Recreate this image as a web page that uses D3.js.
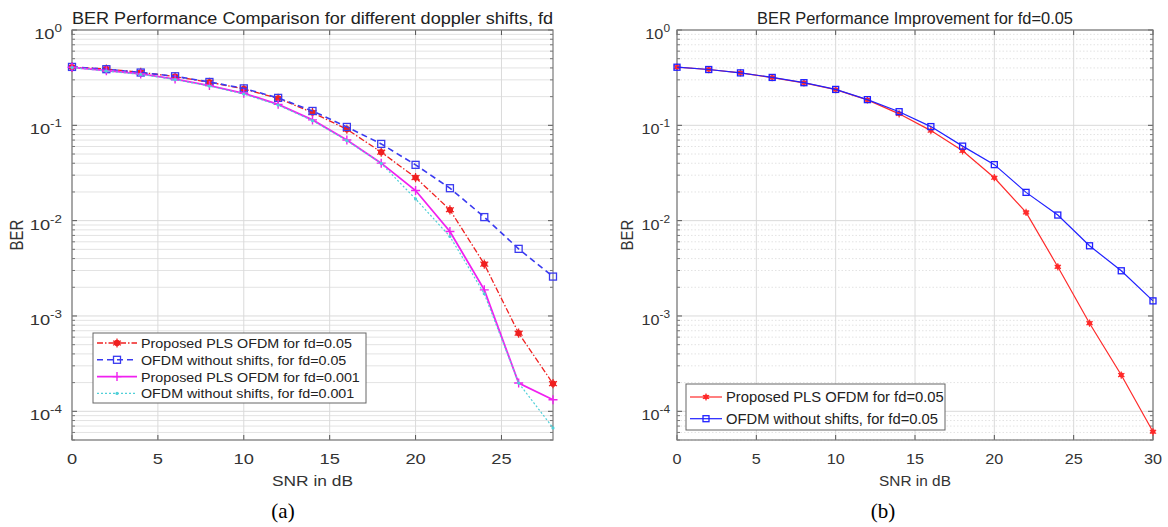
<!DOCTYPE html>
<html>
<head>
<meta charset="utf-8">
<script src="https://cdn.jsdelivr.net/npm/d3@7"></script>
<style>
  body { margin: 0; background: #fff; }
  text { font-family: "Liberation Sans", Arial, sans-serif; fill: #333; }
</style>
</head>
<body>
<svg id="chart"></svg>
<script>
var screen = {width: 1168, height: 527};

// panel (a)
var snrA = [0, 2, 4, 6, 8, 10, 12, 14, 16, 18, 20, 22, 24, 26, 28];
var pls05A   = [0.408, 0.390, 0.360, 0.324, 0.283, 0.241, 0.192, 0.136, 0.091, 0.0523, 0.0283, 0.0130, 0.00350, 0.00066, 0.000195];
var ofdm05A  = [0.410, 0.388, 0.358, 0.327, 0.285, 0.244, 0.194, 0.1415, 0.0962, 0.0638, 0.0385, 0.0219, 0.0109, 0.00506, 0.00259];
var pls001A  = [0.406, 0.374, 0.346, 0.306, 0.261, 0.217, 0.166, 0.114, 0.0702, 0.0401, 0.0207, 0.00769, 0.00188, 0.000198, 0.000132];
var ofdm001A = [0.404, 0.371, 0.342, 0.302, 0.258, 0.213, 0.163, 0.112, 0.069, 0.0398, 0.0169, 0.00682, 0.00171, 0.000198, 0.000067];

// panel (b)
var snrB = [0, 2, 4, 6, 8, 10, 12, 14, 16, 18, 20, 22, 24, 26, 28, 30];
var pls05B  = [0.407, 0.385, 0.355, 0.317, 0.279, 0.237, 0.185, 0.132, 0.088, 0.054, 0.0282, 0.0122, 0.00328, 0.00084, 0.00024, 0.000061];
var ofdm05B = [0.407, 0.385, 0.355, 0.318, 0.280, 0.238, 0.186, 0.139, 0.097, 0.0605, 0.0387, 0.0198, 0.01145, 0.00545, 0.00298, 0.00144];

var yTicks = [1, 0.1, 0.01, 0.001, 0.0001];
var yExps = ["0", "-1", "-2", "-3", "-4"];
var xTicksA = [0, 5, 10, 15, 20, 25];
var xTicksB = [0, 5, 10, 15, 20, 25, 30];

var legendA = ["Proposed PLS OFDM for fd=0.05", "OFDM without shifts, for fd=0.05",
               "Proposed PLS OFDM for fd=0.001", "OFDM without shifts, for fd=0.001"];
var legendB = ["Proposed PLS OFDM for fd=0.05", "OFDM without shifts, for fd=0.05"];

var svg = d3.select("#chart").attr("width", screen.width).attr("height", screen.height);

// text placed at x,y and stretched sideways like the source figure
var place = function(x, y, sx)
{
    return "translate(" + x + "," + y + ") scale(" + sx + ",1)";
}

var drawPanel = function(p)
{
    var g = svg.append("g");
    var xScale = d3.scaleLinear().domain(p.xDomain).range([p.left, p.right]);
    var yScale = d3.scaleLog().domain([5e-5, 1]).range([p.bottom, p.top]);

    // minor grid
    var minors = [];
    for (var e = -5; e < 0; e++)
        for (var k = 2; k < 10; k++) {
            var v = k * Math.pow(10, e);
            if (v >= 5e-5) minors.push(v);
        }
    g.append("g").selectAll("line").data(minors).enter().append("line")
        .attr("x1", p.left).attr("x2", p.right)
        .attr("y1", function(d){ return yScale(d); })
        .attr("y2", function(d){ return yScale(d); })
        .attr("stroke", "#e3e3e3").attr("stroke-width", 1)
        .attr("stroke-dasharray", p.minorDash);

    // major grid
    g.append("g").selectAll("line").data(yTicks).enter().append("line")
        .attr("x1", p.left).attr("x2", p.right)
        .attr("y1", function(d){ return yScale(d); })
        .attr("y2", function(d){ return yScale(d); })
        .attr("stroke", "#dadada");
    g.append("g").selectAll("line").data(p.xTicks).enter().append("line")
        .attr("x1", function(d){ return xScale(d); })
        .attr("x2", function(d){ return xScale(d); })
        .attr("y1", p.top).attr("y2", p.bottom)
        .attr("stroke", "#dadada");

    // ticks inside box
    var yt = g.append("g");
    yt.selectAll(".mj").data(yTicks).enter().append("path")
        .attr("d", function(d){ var y = yScale(d); return "M"+p.left+","+y+"h5M"+p.right+","+y+"h-5"; })
        .attr("stroke", "#555");
    yt.selectAll(".mn").data(minors).enter().append("path")
        .attr("d", function(d){ var y = yScale(d); return "M"+p.left+","+y+"h3M"+p.right+","+y+"h-3"; })
        .attr("stroke", "#777");
    g.append("g").selectAll("path").data(p.xTicks).enter().append("path")
        .attr("d", function(d){ var x = xScale(d); return "M"+x+","+p.bottom+"v-5M"+x+","+p.top+"v5"; })
        .attr("stroke", "#555");

    g.append("rect")
        .attr("x", p.left).attr("y", p.top)
        .attr("width", p.right - p.left).attr("height", p.bottom - p.top)
        .attr("fill", "none").attr("stroke", "#7a7a7a").attr("stroke-width", 1.2);

    // tick labels
    var ylab = g.append("g").selectAll("text").data(yTicks).enter().append("text")
        .attr("transform", function(d){ return place(p.left - p.yLabelGap, yScale(d) + 9, p.sx); })
        .attr("text-anchor", "end")
        .style("font-size", "15px");
    ylab.append("tspan").text("10");
    ylab.append("tspan").attr("dy", -7).style("font-size", "11px")
        .text(function(d, i){ return yExps[i]; });

    g.append("g").selectAll("text").data(p.xTicks).enter().append("text")
        .attr("transform", function(d){ return place(xScale(d), 464, p.sx); })
        .attr("text-anchor", "middle")
        .style("font-size", "15px")
        .text(function(d){ return d; });

    // titles
    g.append("text").attr("x", (p.left + p.right) / 2 - p.titleLen / 2).attr("y", 24)
        .attr("textLength", p.titleLen).attr("lengthAdjust", "spacingAndGlyphs")
        .style("font-size", p.titleFont).style("fill", "#222")
        .text(p.title);
    g.append("text").attr("transform", place((p.left + p.right) / 2, 486, p.sx * 0.95))
        .attr("text-anchor", "middle").style("font-size", "15px")
        .text("SNR in dB");
    g.append("text").attr("transform", "translate(" + p.yLabelX + ",235) rotate(-90) scale(1," + p.sx + ")")
        .attr("text-anchor", "middle").style("font-size", "15px")
        .text("BER");
    g.append("text").attr("x", p.capX).attr("y", 518)
        .attr("text-anchor", "middle")
        .style("font-family", "'Liberation Serif', 'Times New Roman', serif")
        .style("font-size", "21px").style("fill", "#000")
        .text(p.caption);

    // series
    var line = d3.line()
        .x(function(d){ return xScale(d[0]); })
        .y(function(d){ return yScale(d[1]); });

    p.series.forEach(function(s)
    {
        var pts = p.xs.map(function(x, i){ return [x, s.values[i]]; });
        g.append("path").datum(pts)
            .attr("d", line)
            .attr("fill", "none")
            .attr("stroke", s.color)
            .attr("stroke-width", s.width)
            .attr("stroke-dasharray", s.dash);
        g.append("g").selectAll("g").data(pts).enter().append("g")
            .attr("transform", function(d){ return "translate(" + xScale(d[0]) + "," + yScale(d[1]) + ")"; })
            .each(function(){ drawMarker(d3.select(this), s); });
    });

    // legend
    var lg = g.append("g");
    lg.append("rect")
        .attr("x", p.legend.x).attr("y", p.legend.y)
        .attr("width", p.legend.w).attr("height", p.legend.h)
        .attr("fill", "#fff").attr("stroke", "#666").attr("stroke-width", 1);
    var labels = [];
    p.series.forEach(function(s, i)
    {
        var cy = p.legend.y + p.legend.first + i * p.legend.step;
        lg.append("line")
            .attr("x1", p.legend.x + 4).attr("x2", p.legend.x + 4 + p.legend.sample)
            .attr("y1", cy).attr("y2", cy)
            .attr("stroke", s.color).attr("stroke-width", s.width)
            .attr("stroke-dasharray", s.dash);
        var m = lg.append("g").attr("transform", "translate(" + (p.legend.x + 4 + p.legend.sample / 2) + "," + cy + ")");
        drawMarker(m, s);
        var t = lg.append("text")
            .attr("x", 0).attr("y", 0)
            .style("font-size", p.legend.font)
            .style("fill", "#222")
            .text(s.name);
        labels.push({node: t, x: p.legend.x + 8 + p.legend.sample, y: cy + 5});
    });
    // stretch the legend entries so the first one fills the width seen in the figure
    var k = p.legend.firstWidth / labels[0].node.node().getComputedTextLength();
    labels.forEach(function(l){ l.node.attr("transform", place(l.x, l.y, k)); });
}

var drawMarker = function(sel, s)
{
    if (s.marker == "star") {
        sel.append("circle").attr("r", s.msize * 0.45).attr("fill", s.color);
        sel.append("path").attr("d", d3.symbol(d3.symbolAsterisk, s.msize * s.msize * 1.2)())
            .attr("stroke", s.color).attr("stroke-width", 1.2).attr("fill", "none");
    } else if (s.marker == "square") {
        sel.append("rect").attr("x", -s.msize / 2).attr("y", -s.msize / 2)
            .attr("width", s.msize).attr("height", s.msize)
            .attr("fill", "none").attr("stroke", s.color).attr("stroke-width", 1.3);
    } else if (s.marker == "plus") {
        sel.append("path").attr("d", "M" + (-s.msize / 2) + ",0h" + s.msize + "M0," + (-s.msize / 2) + "v" + s.msize)
            .attr("stroke", s.color).attr("stroke-width", 1.4).attr("fill", "none");
    } else if (s.marker == "dot") {
        sel.append("circle").attr("r", s.msize).attr("fill", s.color);
    }
}

drawPanel({
    left: 72, right: 553, top: 30, bottom: 440,
    xDomain: [0, 28], xTicks: xTicksA, xs: snrA,
    minorDash: null, sx: 1.22, yLabelGap: 10,
    title: "BER Performance Comparison for different doppler shifts, fd",
    titleLen: 481, titleFont: "16px",
    yLabelX: 23, capX: 283, caption: "(a)",
    series: [
        {name: legendA[0], values: pls05A, color: "#f02020", width: 1.3, dash: "6,2,1.5,2", marker: "star", msize: 7},
        {name: legendA[1], values: ofdm05A, color: "#3a3af0", width: 1.6, dash: "6,4", marker: "square", msize: 7},
        {name: legendA[2], values: pls001A, color: "#f020f0", width: 1.8, dash: null, marker: "plus", msize: 9},
        {name: legendA[3], values: ofdm001A, color: "#50d0d8", width: 1.2, dash: "2,2", marker: "dot", msize: 1.6}
    ],
    legend: {x: 93, y: 333, w: 273, h: 70, first: 10, step: 16.8, sample: 40, font: "13px", firstWidth: 211}
});

drawPanel({
    left: 677, right: 1153, top: 30, bottom: 440,
    xDomain: [0, 30], xTicks: xTicksB, xs: snrB,
    minorDash: "1.5,2", sx: 1.08, yLabelGap: 7,
    title: "BER Performance Improvement for fd=0.05",
    titleLen: 316, titleFont: "16px",
    yLabelX: 633, capX: 883, caption: "(b)",
    series: [
        {name: legendB[0], values: pls05B, color: "#ff2a2a", width: 1.2, dash: null, marker: "star", msize: 5.5},
        {name: legendB[1], values: ofdm05B, color: "#2020ff", width: 1.2, dash: null, marker: "square", msize: 6}
    ],
    legend: {x: 686, y: 384, w: 259, h: 46, first: 13, step: 21.7, sample: 32, font: "14px", firstWidth: 218}
});
</script>
</body>
</html>
